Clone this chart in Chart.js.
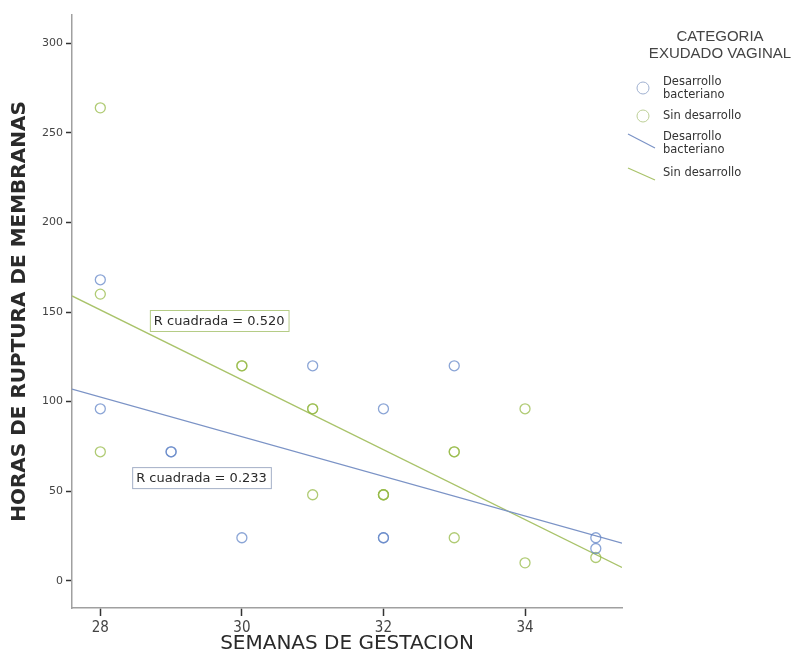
<!DOCTYPE html>
<html>
<head>
<meta charset="utf-8">
<title>Horas de ruptura de membranas vs semanas de gestacion</title>
<script src="https://cdn.jsdelivr.net/npm/chart.js@4.4.1/dist/chart.umd.min.js"></script>
<style>
  html, body { margin: 0; padding: 0; background: #fff; }
  #wrap { width: 810px; height: 666px; }
</style>
</head>
<body>
<div id="wrap"><canvas id="mycanvas" width="810" height="666"></canvas></div>
<script>
// semanas de gestacion / horas de ruptura, grupo "Desarrollo bacteriano"
var weeksBact = [28, 28, 29, 29, 30, 31, 32, 32, 32, 33, 35, 35];
var hoursBact = [168, 96, 72, 72, 24, 120, 96, 24, 24, 120, 24, 18];

// grupo "Sin desarrollo"
var weeksSin = [28, 28, 28, 30, 30, 31, 31, 31, 32, 32, 32, 33, 33, 33, 34, 34, 35];
var hoursSin = [264, 160, 72, 120, 120, 96, 96, 48, 48, 48, 48, 72, 72, 24, 96, 10, 13];

// rectas de ajuste (valores en los extremos del eje x)
var fitX = [27.6, 35.37];
var fitBact = [107, 21];
var fitSin = [159, 7.4];
var rSquared = ["R cuadrada = 0.520", "R cuadrada = 0.233"];

var xTicks = [28, 30, 32, 34];
var yTicks = [0, 50, 100, 150, 200, 250, 300];

var legendTitle = ["CATEGORIA", "EXUDADO VAGINAL"];
var legendItems = [["Desarrollo", "bacteriano"], ["Sin desarrollo"], ["Desarrollo", "bacteriano"], ["Sin desarrollo"]];

var blue = "rgba(100, 135, 200, 0.75)";
var green = "rgba(150, 185, 70, 0.75)";
var blueLine = "#7b93c6";
var greenLine = "#a9c36a";

function pts(xs, ys) {
  var out = [];
  for (var i in xs) out.push({x: xs[i], y: ys[i]});
  return out;
}

// cajas "R cuadrada" y leyenda a la derecha
var extras = {
  id: "extras",
  afterDatasetsDraw: function(chart) {
    var ctx = chart.ctx;
    var xs = chart.scales.x, ys = chart.scales.y;
    var boxes = [
      {text: rSquared[0], x: 28.7, y: 145, border: "#b5cc86"},
      {text: rSquared[1], x: 28.45, y: 57.3, border: "#a3afc6"}
    ];
    ctx.save();
    ctx.font = "13px 'DejaVu Sans'";
    ctx.textBaseline = "middle";
    boxes.forEach(function(b) {
      var px = xs.getPixelForValue(b.x), py = ys.getPixelForValue(b.y);
      var w = ctx.measureText(b.text).width + 8;
      ctx.fillStyle = "#fff";
      ctx.fillRect(px, py - 11, w, 22);
      ctx.strokeStyle = b.border;
      ctx.lineWidth = 1;
      ctx.strokeRect(px + 0.5, py - 10.5, w, 21);
      ctx.fillStyle = "#2a2a2a";
      ctx.textAlign = "left";
      ctx.fillText(b.text, px + 4, py + 1);
    });

    // leyenda
    ctx.fillStyle = "#444";
    ctx.textAlign = "center";
    ctx.font = "15px 'Liberation Sans'";
    ctx.fillText(legendTitle[0], 720, 37);
    ctx.fillText(legendTitle[1], 720, 54);

    ctx.font = "11.5px 'DejaVu Sans'";
    ctx.textAlign = "left";
    ctx.fillStyle = "#333";
    var rows = [82, 116, 137, 173];
    legendItems.forEach(function(lines, i) {
      lines.forEach(function(t, k) {
        ctx.fillText(t, 663, rows[i] + k * 13);
      });
    });
    ctx.lineWidth = 1;
    ctx.strokeStyle = "#9fb0d0";
    ctx.beginPath(); ctx.arc(643, 88, 6, 0, Math.PI * 2); ctx.stroke();
    ctx.strokeStyle = "#bccf96";
    ctx.beginPath(); ctx.arc(643, 116, 6, 0, Math.PI * 2); ctx.stroke();
    ctx.lineWidth = 1.2;
    ctx.strokeStyle = blueLine;
    ctx.beginPath(); ctx.moveTo(628, 134); ctx.lineTo(655, 148); ctx.stroke();
    ctx.strokeStyle = greenLine;
    ctx.beginPath(); ctx.moveTo(628, 168); ctx.lineTo(655, 180); ctx.stroke();
    ctx.restore();
  }
};

var ctx = document.getElementById("mycanvas");
var chart = new Chart(ctx, {
  type: "scatter",
  data: {
    datasets: [
      {
        label: "Desarrollo bacteriano",
        data: pts(weeksBact, hoursBact),
        borderColor: blue,
        backgroundColor: "rgba(0,0,0,0)",
        pointRadius: 5,
        borderWidth: 1.3
      },
      {
        label: "Sin desarrollo",
        data: pts(weeksSin, hoursSin),
        borderColor: green,
        backgroundColor: "rgba(0,0,0,0)",
        pointRadius: 5,
        borderWidth: 1.3
      },
      {
        label: "Ajuste Desarrollo bacteriano",
        type: "line",
        data: pts(fitX, fitBact),
        borderColor: blueLine,
        borderWidth: 1.3,
        pointRadius: 0,
        fill: false
      },
      {
        label: "Ajuste Sin desarrollo",
        type: "line",
        data: pts(fitX, fitSin),
        borderColor: greenLine,
        borderWidth: 1.3,
        pointRadius: 0,
        fill: false
      }
    ]
  },
  options: {
    responsive: false,
    animation: { duration: 0 },
    layout: { padding: { left: 0, right: 188, top: 15, bottom: 0 } },
    plugins: {
      legend: { display: false },
      tooltip: { enabled: false }
    },
    scales: {
      x: {
        type: "linear",
        min: 27.6,
        max: 35.37,
        afterBuildTicks: function(s) { s.ticks = xTicks.map(function(v) { return {value: v}; }); },
        afterFit: function(s) { s.height = 58; },
        grid: { display: true, drawOnChartArea: false, drawTicks: true, tickLength: 8, color: "#333", tickWidth: 1.5 },
        border: { display: true, color: "#a0a0a0", width: 1.5 },
        ticks: { color: "#444", font: { family: "'DejaVu Sans Condensed'", size: 15 }, padding: 3, maxRotation: 0 },
        title: {
          display: true,
          text: "SEMANAS DE GESTACION",
          color: "#2a2a2a",
          font: { family: "'DejaVu Sans'", size: 20 },
          padding: { top: 0, bottom: 10 }
        }
      },
      y: {
        type: "linear",
        min: -15.2,
        max: 315.8,
        afterBuildTicks: function(s) { s.ticks = yTicks.map(function(v) { return {value: v}; }); },
        afterFit: function(s) { s.width = 72; },
        grid: { display: true, drawOnChartArea: false, drawTicks: true, tickLength: 6, color: "#333", tickWidth: 1.5 },
        border: { display: true, color: "#a0a0a0", width: 1.5 },
        ticks: { color: "#444", font: { family: "'DejaVu Sans'", size: 11 }, padding: 3 },
        title: {
          display: true,
          text: "HORAS DE RUPTURA DE MEMBRANAS",
          color: "#2a2a2a",
          font: { family: "'DejaVu Sans'", size: 20, weight: "bold" },
          padding: { top: 8, bottom: 0 }
        }
      }
    }
  },
  plugins: [extras]
});
</script>
</body>
</html>
